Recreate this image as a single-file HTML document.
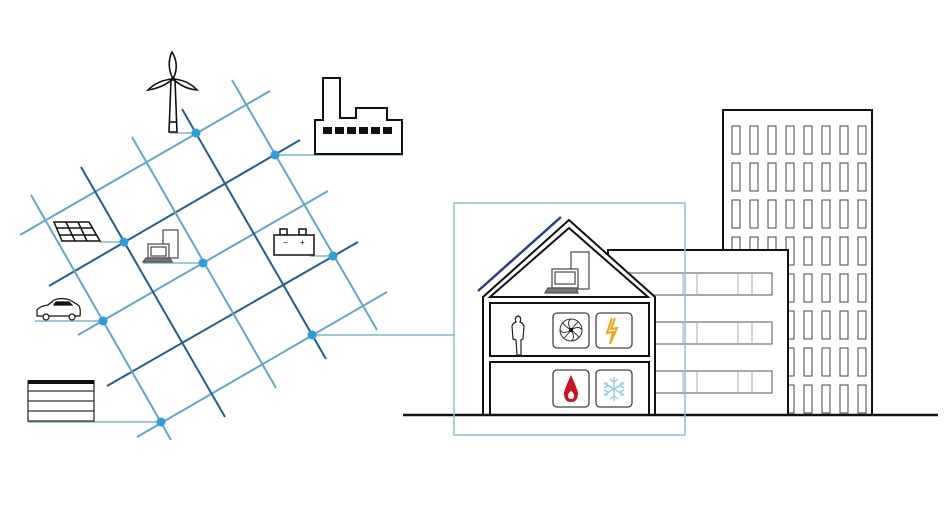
<!DOCTYPE html>
<html><head><meta charset="utf-8"><style>html,body{margin:0;padding:0;background:#fff}svg{display:block}</style></head>
<body>
<svg width="950" height="509" viewBox="0 0 950 509" xmlns="http://www.w3.org/2000/svg">
<rect width="950" height="509" fill="#fff"/>
<!-- grid -->
<g stroke-width="2" fill="none">
<line x1="20" y1="235" x2="270" y2="91" stroke="#5fa8c8"/>
<line x1="49" y1="286" x2="300" y2="140" stroke="#1f5f8f"/>
<line x1="78" y1="335" x2="328" y2="191" stroke="#5fa8c8"/>
<line x1="107" y1="386" x2="358" y2="242" stroke="#1f5f8f"/>
<line x1="137" y1="437" x2="387" y2="292" stroke="#5fa8c8"/>
<line x1="31" y1="195" x2="171" y2="440" stroke="#5fa8c8"/>
<line x1="81" y1="167" x2="225" y2="417" stroke="#1f5f8f"/>
<line x1="132" y1="137" x2="276" y2="388" stroke="#5fa8c8"/>
<line x1="182" y1="109" x2="326" y2="359" stroke="#1f5f8f"/>
<line x1="232" y1="80" x2="377" y2="330" stroke="#5fa8c8"/>
</g>
<!-- connectors -->
<g stroke="#7ab8cc" stroke-width="1.5">
<line x1="170" y1="133" x2="196" y2="133"/>
<line x1="275" y1="155" x2="403" y2="155"/>
<line x1="100" y1="242" x2="124" y2="242"/>
<line x1="143" y1="263" x2="203" y2="263"/>
<line x1="310" y1="256" x2="333" y2="256"/>
<line x1="35" y1="321" x2="103" y2="321"/>
<line x1="28" y1="422" x2="161" y2="422"/>
<line x1="312" y1="335" x2="455" y2="335"/>
</g>
<g fill="#2a9fe0">
<circle cx="196" cy="133" r="4.5"/><circle cx="275" cy="155" r="4.5"/><circle cx="124" cy="242" r="4.5"/>
<circle cx="203" cy="263" r="4.5"/><circle cx="333" cy="256" r="4.5"/><circle cx="103" cy="321" r="4.5"/>
<circle cx="312" cy="335" r="4.5"/><circle cx="161" cy="422" r="4.5"/>
</g>
<!-- wind turbine -->
<g stroke="#111" stroke-width="1.6" fill="#fff">
<path d="M169 132 L171 80 L175 80 L177 132 Z"/>
<line x1="169" y1="122" x2="177" y2="122"/>
<path d="M173 79 Q166 65 172 52 Q180 65 173 79 Z"/>
<path d="M173 79 Q158 80 148 90 Q162 88 173 79 Z"/>
<path d="M173 79 Q188 80 197 90 Q184 89 173 79 Z"/>
</g>
<!-- factory -->
<path d="M315 154 L315 120 L323 120 L323 78 L340 78 L340 118 L356 118 L356 108 L387 108 L387 120 L402 120 L402 154 Z" fill="#fff" stroke="#111" stroke-width="2"/>
<g fill="#111"><rect x="323" y="127" width="9" height="7"/><rect x="335" y="127" width="9" height="7"/><rect x="347" y="127" width="9" height="7"/><rect x="359" y="127" width="9" height="7"/><rect x="371" y="127" width="9" height="7"/><rect x="383" y="127" width="9" height="7"/></g>
<!-- solar panel -->
<g stroke="#111" stroke-width="1.5" fill="#fff">
<path d="M54 222 L89 222 L100 241 L62 241 Z"/>
<line x1="57" y1="228" x2="93" y2="228"/><line x1="59" y1="235" x2="97" y2="235"/>
<line x1="66" y1="222" x2="75" y2="241"/><line x1="78" y1="222" x2="87" y2="241"/>
</g>
<!-- laptop -->
<g stroke="#555" stroke-width="1.3" fill="#fff">
<rect x="163" y="230" width="15" height="28"/>
<rect x="148" y="244" width="21" height="14"/>
<rect x="151" y="247" width="15" height="9"/>
<path d="M146 258 L170 258 L172 262 L143 262 Z" fill="#777"/>
</g>
<!-- battery -->
<g stroke="#111" stroke-width="1.5" fill="#fff">
<rect x="280" y="229" width="7" height="6"/><rect x="299" y="229" width="7" height="6"/>
<rect x="274" y="235" width="40" height="20"/>
</g>
<text x="283" y="245" font-family="Liberation Sans,sans-serif" font-size="8">−</text>
<text x="300" y="245" font-family="Liberation Sans,sans-serif" font-size="8">+</text>
<!-- car -->
<g stroke="#111" stroke-width="1.2" fill="#fff">
<path d="M37 316 L37 310 Q40 306 48 305 L54 300 Q62 297 70 300 L78 305 Q81 307 80 316 Z"/>
<circle cx="46" cy="317" r="3"/><circle cx="72" cy="317" r="3"/>
<path d="M56 302 L69 302 L72 305 L54 305 Z" fill="#111"/>
</g>
<!-- fence -->
<g stroke="#333" stroke-width="1.3" fill="#fff">
<rect x="28" y="381" width="66" height="40"/>
<line x1="28" y1="391" x2="94" y2="391"/><line x1="28" y1="401" x2="94" y2="401"/><line x1="28" y1="411" x2="94" y2="411"/>
</g>
<rect x="28" y="380" width="66" height="4" fill="#111"/>
<!-- tall building -->
<rect x="723" y="110" width="149" height="305" fill="#fff" stroke="#111" stroke-width="2"/>
<g stroke="#444" stroke-width="1" fill="#fff" id="win">
<rect x="732" y="126" width="8" height="28"/><rect x="750" y="126" width="8" height="28"/><rect x="768" y="126" width="8" height="28"/><rect x="786" y="126" width="8" height="28"/><rect x="804" y="126" width="8" height="28"/><rect x="822" y="126" width="8" height="28"/><rect x="840" y="126" width="8" height="28"/><rect x="858" y="126" width="8" height="28"/>
</g>
<use href="#win" y="37"/><use href="#win" y="74"/><use href="#win" y="111"/><use href="#win" y="148"/><use href="#win" y="185"/><use href="#win" y="222"/><use href="#win" y="259"/>
<!-- mid building -->
<rect x="608" y="250" width="180" height="165" fill="#fff" stroke="#111" stroke-width="2"/>
<g stroke="#555" stroke-width="1" fill="#fff" id="mw">
<rect x="630" y="273" width="142" height="22"/>
<line x1="683" y1="273" x2="683" y2="295" stroke="#aaa"/><line x1="697" y1="273" x2="697" y2="295" stroke="#aaa"/>
<line x1="738" y1="273" x2="738" y2="295" stroke="#aaa"/><line x1="752" y1="273" x2="752" y2="295" stroke="#aaa"/>
</g>
<use href="#mw" y="49"/><use href="#mw" y="98"/>
<!-- house -->
<path d="M483 415 L483 297 L569 220 L655 297 L655 415 Z" fill="#fff" stroke="#111" stroke-width="2"/>
<path d="M490 297 L569 228 L648 297 Z" fill="#fff" stroke="#111" stroke-width="2"/>
<rect x="490" y="303" width="159" height="53" fill="#fff" stroke="#111" stroke-width="2"/>
<rect x="490" y="362" width="159" height="53" fill="#fff" stroke="#111" stroke-width="2"/>
<line x1="478" y1="291" x2="561" y2="217" stroke="#2a3d8f" stroke-width="2.5"/>
<!-- house laptop -->
<g stroke="#555" stroke-width="1.3" fill="#fff">
<rect x="571" y="252" width="18" height="37"/>
<rect x="552" y="269" width="26" height="19"/>
<rect x="555" y="272" width="20" height="12"/>
<path d="M548 288 L576 288 L578 293 L545 293 Z" fill="#777"/>
</g>
<!-- person -->
<path d="M517 355 L516 340 L513 339 L512 326 Q513 323 516 322 Q514 317 518 316 Q522 317 520 322 Q523 323 524 326 L523 339 L521 340 L521 355 Z" fill="#fff" stroke="#222" stroke-width="1.2"/>
<!-- icon boxes -->
<g fill="#fff" stroke="#444" stroke-width="1.3">
<rect x="553" y="313" width="36" height="35" rx="4"/><rect x="596" y="313" width="36" height="35" rx="4"/>
<rect x="553" y="370" width="36" height="37" rx="4"/><rect x="596" y="370" width="36" height="37" rx="4"/>
</g>
<g stroke="#333" stroke-width="1" fill="none">
<circle cx="571" cy="330" r="11"/>
<path d="M571 330 Q566 322 571 319 M571 330 Q579 325 582 330 M571 330 Q576 338 571 341 M571 330 Q563 335 560 330 M571 330 Q563 325 563 322 M571 330 Q577 322 579 322 M571 330 Q579 336 579 338 M571 330 Q565 338 563 338"/>
</g>
<circle cx="571" cy="330" r="2" fill="#111"/>
<path d="M612 318 L607 333 L613 332 L610 344 L617 328 L611 329 L615 318" fill="none" stroke="#f0a810" stroke-width="2"/>
<path d="M571 375 Q565 388 564 393 Q564 402 571 402 Q578 402 578 393 Q577 388 571 375 Z M571 391 Q568 393 568 396 Q568 399 571 399 Q574 399 574 396 Q574 393 571 391 Z" fill="#d0101e" fill-rule="evenodd"/>
<g stroke="#8fd0ea" stroke-width="1.4" fill="none">
<line x1="614" y1="377" x2="614" y2="401"/><line x1="604" y1="383" x2="624" y2="395"/><line x1="604" y1="395" x2="624" y2="383"/>
<path d="M610 379 L614 382 L618 379 M610 399 L614 396 L618 399 M604 388 L608 386 L606 382 M624 388 L620 386 L622 382 M604 390 L608 392 L606 396 M624 390 L620 392 L622 396"/>
</g>
<!-- ground -->
<line x1="403" y1="415" x2="938" y2="415" stroke="#111" stroke-width="2.5"/>
<!-- house frame -->
<rect x="454" y="203" width="231" height="232" fill="none" stroke="#8cc4d0" stroke-width="1.5"/>
</svg>
</body></html>
